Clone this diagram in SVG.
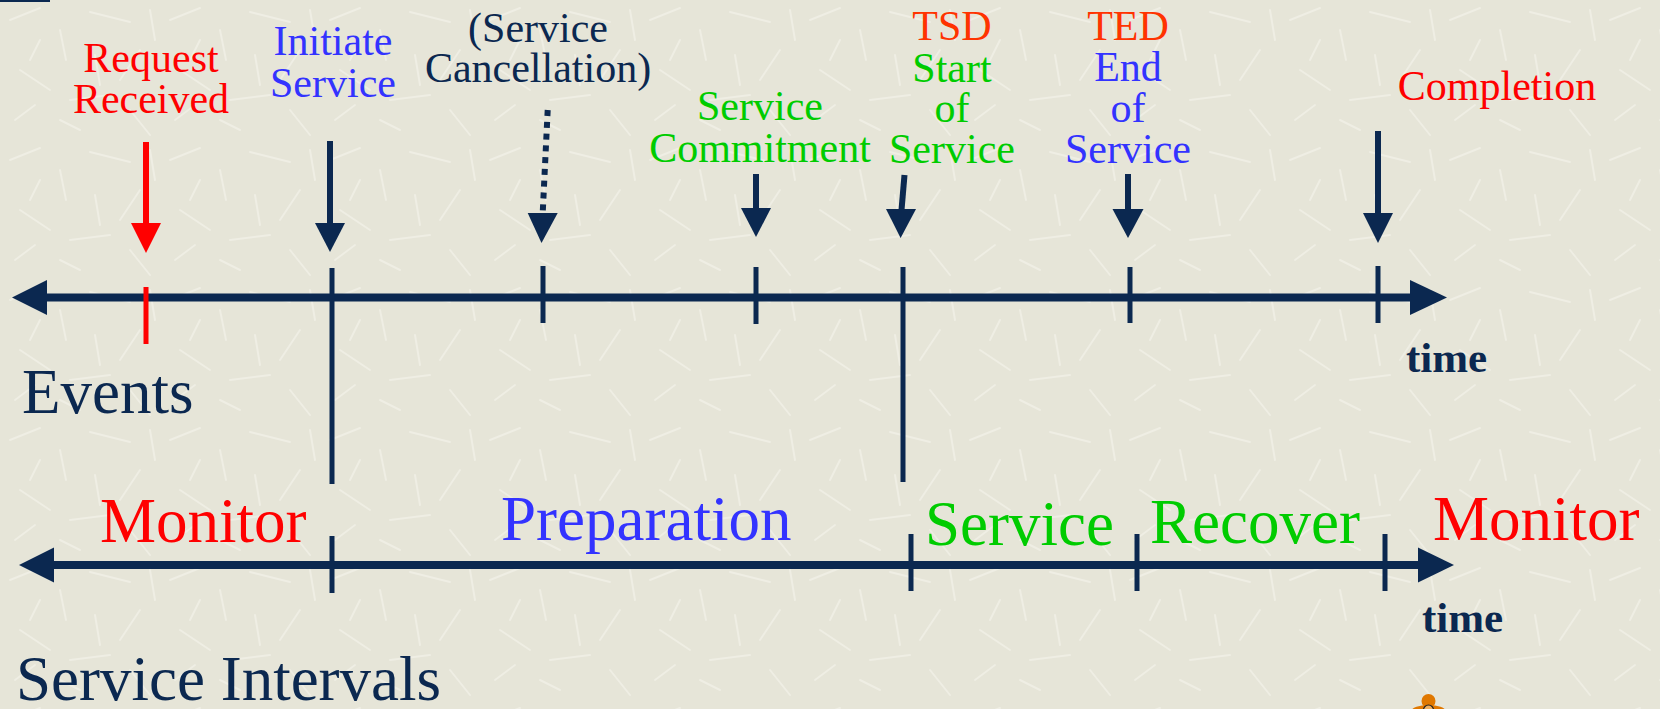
<svg xmlns="http://www.w3.org/2000/svg" width="1660" height="709" viewBox="0 0 1660 709">
<style>
.t{font-family:"Liberation Serif","Times New Roman",serif;font-size:42px;text-anchor:middle}
.big{font-family:"Liberation Serif","Times New Roman",serif;font-size:63px}
.time{font-family:"Liberation Serif","Times New Roman",serif;font-size:43px;font-weight:bold;fill:#0B2850}
.ax{stroke:#0B2850;stroke-width:8;fill:none}
.tk{stroke:#0B2850;stroke-width:5;fill:none}
.ar{stroke:#0B2850;stroke-width:6;fill:none}
.hd{fill:#0B2850}
.red{fill:#FF0000}.blue{fill:#3333FF}.green{fill:#00CC00}.navy{fill:#0B2850}.orng{fill:#FF3300}
</style>
<defs>
<pattern id="tex" width="160" height="140" patternUnits="userSpaceOnUse">
<rect width="160" height="140" fill="#E6E5D8"/>
<g stroke="#EFEEE4" stroke-width="2" stroke-linecap="round">
<path d="M10 20 L40 8 M60 30 L66 60 M90 12 L130 22 M140 50 L120 80 M20 70 L50 90 M70 100 L110 95 M130 110 L150 135 M15 120 L35 105 M95 55 L100 85 M40 40 L30 60 M150 10 L155 40 M80 130 L60 120"/>
</g>
</pattern>
</defs>
<rect width="1660" height="709" fill="url(#tex)"/>
<rect x="0" y="0" width="50" height="2" fill="#0B2850"/>

<g id="connectors">
<line class="ax" x1="40" y1="297.5" x2="1415" y2="297.5"/>
<polygon class="hd" points="12,297.5 47,280 47,315"/>
<polygon class="hd" points="1447,297.5 1410,280 1410,315"/>
<line x1="146" y1="287" x2="146" y2="344" stroke="#FF0000" stroke-width="5"/>
<line class="tk" x1="332" y1="268" x2="332" y2="484"/>
<line class="tk" x1="543" y1="266" x2="543" y2="323"/>
<line class="tk" x1="756" y1="267" x2="756" y2="324"/>
<line class="tk" x1="903" y1="267" x2="903" y2="482"/>
<line class="tk" x1="1130" y1="267" x2="1130" y2="323"/>
<line class="tk" x1="1378" y1="266" x2="1378" y2="323"/>
<line x1="146" y1="142" x2="146" y2="224" stroke="#FF0000" stroke-width="6"/>
<polygon class="red" points="131,223 161,223 146,253"/>
<line class="ar" x1="330" y1="141" x2="330" y2="224"/>
<polygon class="hd" points="315,223 345,223 330,252"/>
<line class="ar" x1="547.7" y1="110" x2="542.7" y2="213" stroke-dasharray="6,5.8"/>
<polygon class="hd" points="527.7,213 557.7,213 541.5,243"/>
<line class="ar" x1="756" y1="174" x2="756" y2="209"/>
<polygon class="hd" points="741,208 771,208 756,237"/>
<line class="ar" x1="904.5" y1="175" x2="901.5" y2="210"/>
<polygon class="hd" points="886,209 916,209 900.6,238"/>
<line class="ar" x1="1128" y1="174" x2="1128" y2="210"/>
<polygon class="hd" points="1112.5,209 1143.5,209 1128,238"/>
<line class="ar" x1="1378" y1="131" x2="1378" y2="214"/>
<polygon class="hd" points="1363,213 1393,213 1378,243"/>
<line class="ax" x1="50" y1="565" x2="1420" y2="565"/>
<polygon class="hd" points="19,565 54,547.5 54,582.5"/>
<polygon class="hd" points="1454,565 1418,547.5 1418,582.5"/>
<line class="tk" x1="332" y1="536" x2="332" y2="593"/>
<line class="tk" x1="911" y1="534" x2="911" y2="591"/>
<line class="tk" x1="1137" y1="534" x2="1137" y2="591"/>
<line class="tk" x1="1385" y1="534" x2="1385" y2="591"/>
</g>

<g id="request-received"><text class="t red" x="151" y="72">Request</text><text class="t red" x="151" y="113">Received</text></g>
<g id="initiate-service"><text class="t blue" x="333" y="55">Initiate</text><text class="t blue" x="333" y="97">Service</text></g>
<g id="service-cancellation"><text class="t navy" x="538" y="42">(Service</text><text class="t navy" x="538" y="82">Cancellation)</text></g>
<g id="service-commitment"><text class="t green" x="760" y="120">Service</text><text class="t green" x="760" y="162">Commitment</text></g>
<g id="tsd"><text class="t orng" x="952" y="40">TSD</text><text class="t green" x="952" y="82">Start</text><text class="t green" x="952" y="122">of</text><text class="t green" x="952" y="163">Service</text></g>
<g id="ted"><text class="t orng" x="1128" y="40">TED</text><text class="t blue" x="1128" y="81">End</text><text class="t blue" x="1128" y="122">of</text><text class="t blue" x="1128" y="163">Service</text></g>
<g id="completion"><text class="t red" x="1497" y="100">Completion</text></g>
<g id="time-events"><text class="time" x="1406" y="372">time</text></g>
<g id="events-label"><text class="big navy" x="22" y="413">Events</text></g>

<g id="monitor-1"><text class="big red" x="100" y="542">Monitor</text></g>
<g id="preparation"><text class="big blue" x="501" y="540">Preparation</text></g>
<g id="service"><text class="big green" x="925" y="545">Service</text></g>
<g id="recover"><text class="big green" x="1150" y="543">Recover</text></g>
<g id="monitor-2"><text class="big red" x="1433" y="540">Monitor</text></g>
<g id="time-intervals"><text class="time" x="1422" y="632">time</text></g>
<g id="service-intervals-label"><text class="big navy" x="16" y="700">Service Intervals</text></g>

<g id="icon">
<circle cx="1428.5" cy="701" r="7" fill="#E07800"/>
<ellipse cx="1428.5" cy="711" rx="17" ry="6" fill="#E07800"/>
<circle cx="1428.5" cy="710" r="5" fill="#F0B060" stroke="#222" stroke-width="1.2"/>
</g>
</svg>
